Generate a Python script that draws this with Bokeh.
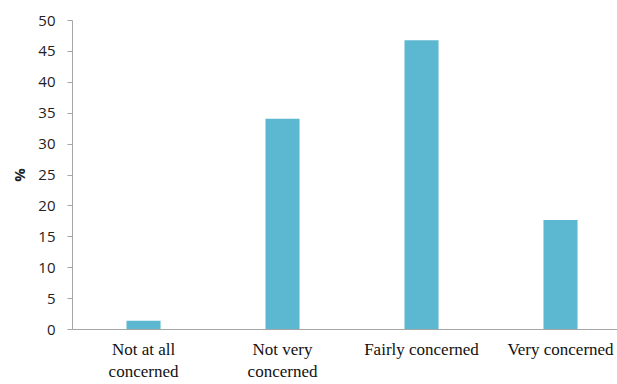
from bokeh.plotting import figure
from bokeh.models import Range1d, FixedTicker
from bokeh.embed import file_html
from bokeh.resources import INLINE

categories = ["Not at all\nconcerned", "Not very\nconcerned", "Fairly concerned", "Very concerned"]
values = [1.4, 34.1, 46.8, 17.7]
y_ticks = [0, 5, 10, 15, 20, 25, 30, 35, 40, 45, 50]

xs = [i + 0.5 for i in range(len(categories))]

p = figure(width=617, height=384, output_backend="svg", toolbar_location=None,
           x_range=Range1d(-0.011, 3.91), y_range=Range1d(0, 50),
           min_border_left=72, min_border_right=0, min_border_top=20, min_border_bottom=54)
p.outline_line_color = None
p.xgrid.visible = False
p.ygrid.visible = False

p.vbar(x=xs, top=values, width=0.245, color="#5bb8d0", line_color=None)

p.yaxis.ticker = FixedTicker(ticks=y_ticks)
p.yaxis.major_tick_out = 5
p.yaxis.major_tick_in = 0
p.yaxis.minor_tick_line_color = None
p.yaxis.axis_line_color = "#a6a6a6"
p.yaxis.major_tick_line_color = "#a6a6a6"
p.yaxis.major_label_text_font = "Open Sans"
p.yaxis.major_label_text_font_size = "15px"
p.yaxis.major_label_text_color = "#222222"
p.yaxis.major_label_standoff = 12
p.yaxis.axis_label = "%"
p.yaxis.axis_label_text_font = "Open Sans"
p.yaxis.axis_label_text_font_style = "bold"
p.yaxis.axis_label_text_font_size = "15px"
p.yaxis.axis_label_text_color = "#222222"
p.yaxis.axis_label_standoff = 6

p.xaxis.ticker = FixedTicker(ticks=xs)
p.xaxis.major_label_overrides = {x: c for x, c in zip(xs, categories)}
p.xaxis.major_tick_line_color = None
p.xaxis.minor_tick_line_color = None
p.xaxis.axis_line_color = "#a6a6a6"
p.xaxis.major_label_text_font = "Liberation Serif"
p.xaxis.major_label_text_font_size = "17px"
p.xaxis.major_label_text_color = "#111111"
p.xaxis.major_label_text_line_height = 1.2
p.xaxis.major_label_standoff = 4

open("out.html", "w").write(file_html(p, INLINE))
